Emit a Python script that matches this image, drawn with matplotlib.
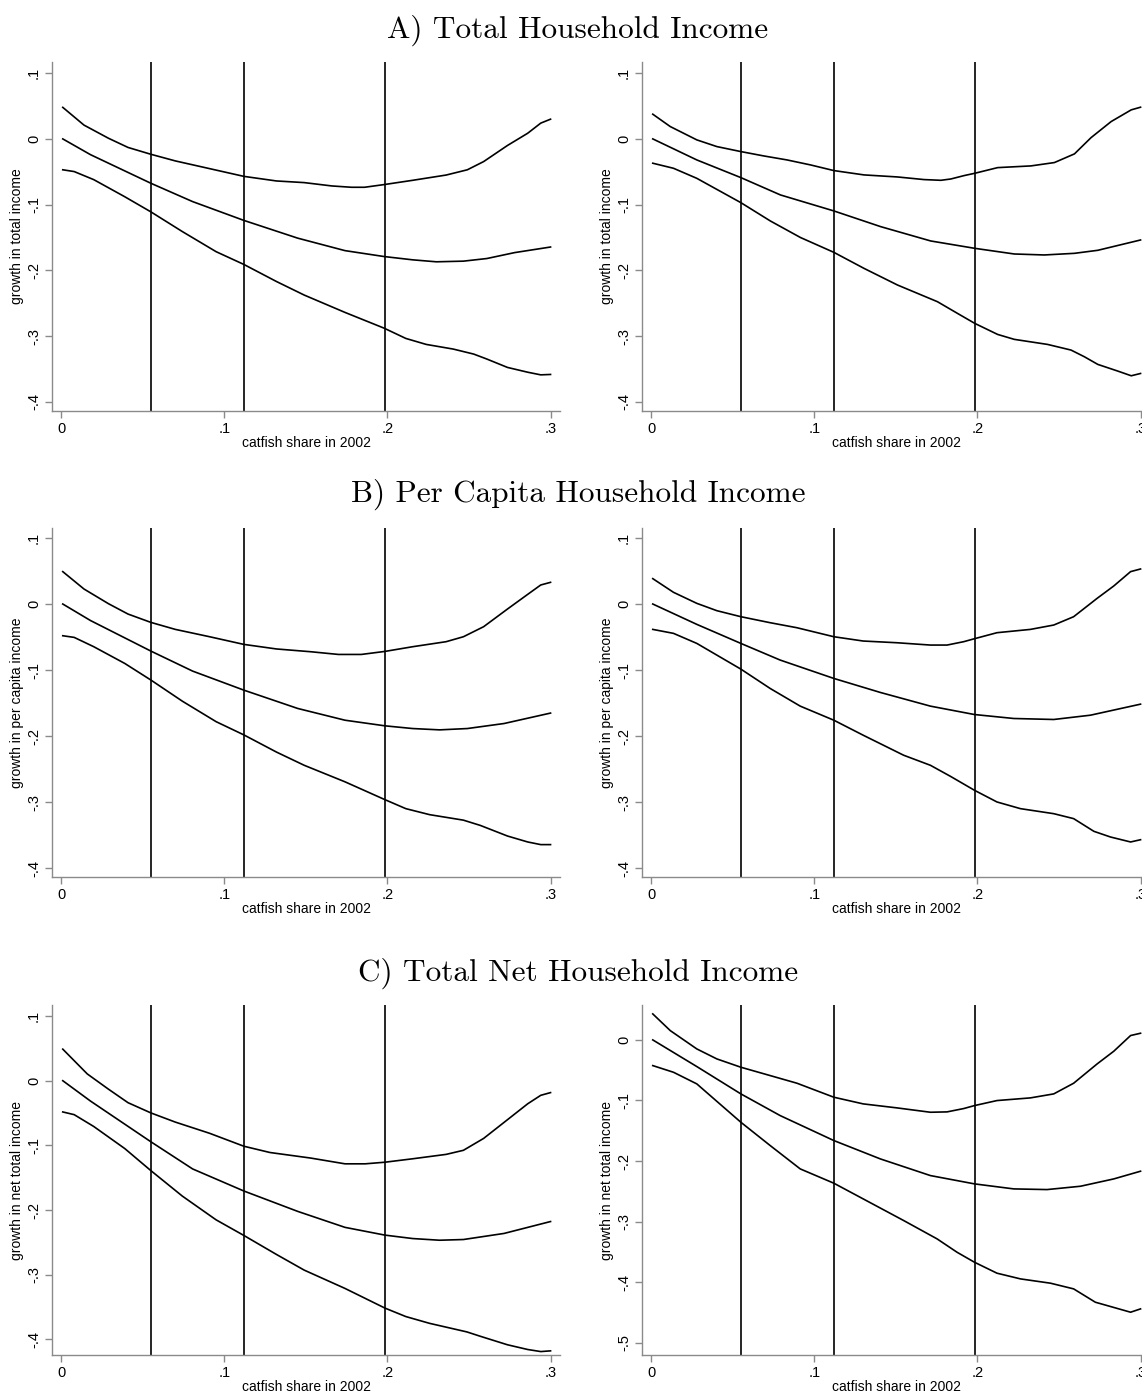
import matplotlib
matplotlib.use("Agg")
import matplotlib.pyplot as plt

# ---------------- data ----------------
panel_titles = ["A) Total Household Income", "B) Per Capita Household Income", "C) Total Net Household Income"]
x_label = "catfish share in 2002"
y_labels = ["growth in total income", "growth in per capita income", "growth in net total income"]
cutoffs = [0.055, 0.112, 0.1985]

x_ticks = [0, 0.1, 0.2, 0.3]
x_tick_labels = ["0", ".1", ".2", ".3"]
y_ticks_std = [-0.4, -0.3, -0.2, -0.1, 0.0, 0.1]
y_tick_labels_std = ["-.4", "-.3", "-.2", "-.1", "0", ".1"]
y_ticks_c_right = [-0.5, -0.4, -0.3, -0.2, -0.1, 0.0]
y_tick_labels_c_right = ["-.5", "-.4", "-.3", "-.2", "-.1", "0"]

# Panel A, left
a_l_up_x = [0.001, 0.014, 0.029, 0.041, 0.055, 0.070, 0.087, 0.112, 0.132, 0.149, 0.166, 0.178, 0.186, 0.198, 0.2155, 0.236, 0.249, 0.259, 0.2736, 0.286, 0.294, 0.300]
a_l_up_y = [0.048, 0.021, 0.001, -0.013, -0.0234, -0.0335, -0.043, -0.057, -0.064, -0.0665, -0.0716, -0.0736, -0.0736, -0.0695, -0.063, -0.055, -0.047, -0.0345, -0.010, 0.0086, 0.024, 0.030]
a_l_mid_x = [0.001, 0.018, 0.055, 0.0806, 0.112, 0.145, 0.174, 0.198, 0.2155, 0.230, 0.2466, 0.261, 0.278, 0.300]
a_l_mid_y = [0.0, -0.024, -0.0675, -0.0954, -0.124, -0.151, -0.170, -0.179, -0.184, -0.187, -0.186, -0.182, -0.173, -0.1645]
a_l_lo_x = [0.001, 0.008, 0.020, 0.039, 0.055, 0.0743, 0.095, 0.112, 0.132, 0.149, 0.174, 0.198, 0.2113, 0.2238, 0.2404, 0.2529, 0.261, 0.2736, 0.286, 0.294, 0.300]
a_l_lo_y = [-0.047, -0.0497, -0.062, -0.088, -0.111, -0.141, -0.1716, -0.191, -0.217, -0.2376, -0.264, -0.288, -0.3036, -0.3127, -0.3198, -0.3274, -0.335, -0.3477, -0.355, -0.359, -0.3584]

# Panel A, right
a_r_up_x = [0.001, 0.0117, 0.028, 0.0403, 0.055, 0.069, 0.0833, 0.0977, 0.112, 0.1305, 0.151, 0.1673, 0.1776, 0.1837, 0.1919, 0.1984, 0.2124, 0.2328, 0.2472, 0.2595, 0.2697, 0.282, 0.2943, 0.300]
a_r_up_y = [0.0376, 0.0188, -0.0015, -0.0117, -0.0193, -0.0259, -0.032, -0.0396, -0.0482, -0.0548, -0.0579, -0.0619, -0.063, -0.061, -0.0558, -0.0523, -0.0437, -0.0411, -0.036, -0.0228, 0.002, 0.0264, 0.0442, 0.0482]
a_r_mid_x = [0.001, 0.028, 0.055, 0.0793, 0.112, 0.1407, 0.1714, 0.1984, 0.2226, 0.241, 0.2595, 0.2738, 0.300]
a_r_mid_y = [0.0, -0.032, -0.0589, -0.0853, -0.1096, -0.1335, -0.1553, -0.1665, -0.1751, -0.1766, -0.1741, -0.1695, -0.1538]
a_r_lo_x = [0.001, 0.0137, 0.028, 0.055, 0.0731, 0.0915, 0.112, 0.1305, 0.151, 0.1755, 0.1878, 0.1984, 0.2124, 0.2226, 0.243, 0.2574, 0.2656, 0.2738, 0.2861, 0.2943, 0.300]
a_r_lo_y = [-0.037, -0.0447, -0.060, -0.097, -0.1249, -0.150, -0.1726, -0.197, -0.2223, -0.2477, -0.2655, -0.2807, -0.2975, -0.305, -0.3127, -0.3213, -0.3315, -0.3431, -0.3533, -0.3604, -0.3569]

# Panel B, left
b_l_up_x = [0.001, 0.014, 0.029, 0.041, 0.055, 0.070, 0.091, 0.112, 0.132, 0.153, 0.170, 0.184, 0.1985, 0.2155, 0.236, 0.2466, 0.259, 0.2736, 0.286, 0.294, 0.300]
b_l_up_y = [0.049, 0.0227, 0.0005, -0.0152, -0.0278, -0.0384, -0.0495, -0.0611, -0.068, -0.0722, -0.0763, -0.0763, -0.0717, -0.0646, -0.057, -0.0495, -0.0343, -0.0076, 0.0146, 0.0288, 0.0328]
b_l_mid_x = [0.001, 0.018, 0.055, 0.0806, 0.112, 0.145, 0.174, 0.1985, 0.2155, 0.232, 0.249, 0.2715, 0.300]
b_l_mid_y = [0.0, -0.025, -0.0712, -0.1015, -0.1303, -0.158, -0.1758, -0.1843, -0.1884, -0.1904, -0.1884, -0.1808, -0.165]
b_l_lo_x = [0.001, 0.008, 0.020, 0.039, 0.055, 0.0743, 0.095, 0.112, 0.132, 0.149, 0.174, 0.1985, 0.2113, 0.2259, 0.2466, 0.257, 0.2736, 0.286, 0.294, 0.300]
b_l_lo_y = [-0.048, -0.0505, -0.0646, -0.0899, -0.115, -0.147, -0.178, -0.198, -0.224, -0.244, -0.269, -0.296, -0.3096, -0.3187, -0.327, -0.335, -0.351, -0.360, -0.364, -0.364]

# Panel B, right
b_r_up_x = [0.001, 0.0137, 0.028, 0.0403, 0.055, 0.073, 0.0894, 0.112, 0.130, 0.1507, 0.1712, 0.1814, 0.1916, 0.1982, 0.212, 0.2325, 0.2468, 0.259, 0.2734, 0.2836, 0.2939, 0.300]
b_r_up_y = [0.0384, 0.0177, 0.001, -0.0101, -0.0192, -0.0283, -0.0359, -0.0495, -0.056, -0.0586, -0.0621, -0.0621, -0.057, -0.0525, -0.0434, -0.0384, -0.0318, -0.0192, 0.0086, 0.0273, 0.049, 0.053]
b_r_mid_x = [0.001, 0.028, 0.055, 0.0791, 0.112, 0.1405, 0.1712, 0.1982, 0.2223, 0.2468, 0.2693, 0.300]
b_r_mid_y = [0.0, -0.0308, -0.0596, -0.0848, -0.1126, -0.1338, -0.1545, -0.1672, -0.1732, -0.1747, -0.1682, -0.1515]
b_r_lo_x = [0.001, 0.0137, 0.028, 0.055, 0.073, 0.0914, 0.112, 0.130, 0.1548, 0.1712, 0.1834, 0.1982, 0.212, 0.2264, 0.2468, 0.259, 0.2714, 0.2816, 0.2939, 0.300]
b_r_lo_y = [-0.0384, -0.0444, -0.0596, -0.0985, -0.1278, -0.1545, -0.1758, -0.1985, -0.2288, -0.244, -0.2606, -0.2818, -0.2995, -0.3096, -0.3172, -0.3247, -0.3439, -0.3525, -0.360, -0.3566]

# Panel C, left
c_l_up_x = [0.001, 0.016, 0.029, 0.041, 0.055, 0.070, 0.091, 0.112, 0.128, 0.153, 0.174, 0.1864, 0.1985, 0.2155, 0.236, 0.2466, 0.259, 0.2736, 0.286, 0.294, 0.300]
c_l_up_y = [0.0488, 0.0105, -0.0131, -0.034, -0.0498, -0.064, -0.0813, -0.1013, -0.111, -0.1196, -0.1285, -0.1285, -0.126, -0.1207, -0.1139, -0.1076, -0.0892, -0.0603, -0.0357, -0.0226, -0.0184]
c_l_mid_x = [0.001, 0.018, 0.055, 0.0806, 0.112, 0.145, 0.174, 0.1985, 0.2155, 0.232, 0.2466, 0.2715, 0.300]
c_l_mid_y = [0.0, -0.0315, -0.0944, -0.1364, -0.1705, -0.202, -0.2267, -0.2387, -0.244, -0.2466, -0.2455, -0.2361, -0.2177]
c_l_lo_x = [0.001, 0.008, 0.020, 0.039, 0.055, 0.0743, 0.095, 0.112, 0.132, 0.149, 0.174, 0.1985, 0.2113, 0.2259, 0.2487, 0.257, 0.2736, 0.286, 0.294, 0.300]
c_l_lo_y = [-0.0483, -0.0525, -0.0708, -0.1049, -0.139, -0.1784, -0.2151, -0.2392, -0.2686, -0.2928, -0.3211, -0.3515, -0.3646, -0.3751, -0.3883, -0.3951, -0.4082, -0.4155, -0.4187, -0.4176]

# Panel C, right
c_r_up_x = [0.001, 0.0117, 0.028, 0.0403, 0.055, 0.073, 0.0894, 0.112, 0.130, 0.1507, 0.1712, 0.1814, 0.1916, 0.1982, 0.212, 0.2325, 0.2468, 0.259, 0.2734, 0.2836, 0.2939, 0.300]
c_r_up_y = [0.0429, 0.0154, -0.0149, -0.0314, -0.0451, -0.0589, -0.0715, -0.0946, -0.1056, -0.1122, -0.1194, -0.1188, -0.1133, -0.1084, -0.1001, -0.0957, -0.0891, -0.0715, -0.0396, -0.0187, 0.0072, 0.011]
c_r_mid_x = [0.001, 0.028, 0.055, 0.0791, 0.112, 0.1405, 0.1712, 0.1982, 0.2223, 0.2427, 0.2632, 0.2836, 0.300]
c_r_mid_y = [0.0, -0.044, -0.0891, -0.1249, -0.1661, -0.1964, -0.2239, -0.2376, -0.2459, -0.247, -0.2415, -0.2294, -0.2167]
c_r_lo_x = [0.001, 0.0137, 0.028, 0.055, 0.073, 0.0914, 0.112, 0.130, 0.1548, 0.1753, 0.1875, 0.1982, 0.212, 0.2264, 0.2448, 0.259, 0.2723, 0.2816, 0.2939, 0.300]
c_r_lo_y = [-0.0424, -0.0534, -0.0726, -0.1359, -0.1744, -0.2129, -0.2365, -0.2624, -0.2981, -0.3284, -0.3504, -0.3669, -0.385, -0.3944, -0.4015, -0.4109, -0.4329, -0.4400, -0.4494, -0.4439]

# ---------------- layout ----------------
W, H = 1142, 1393
fig = plt.figure(figsize=(W / 100, H / 100), dpi=100)
fig.patch.set_facecolor("white")

def px_axes(left, top, right, bottom):
    return fig.add_axes([left / W, 1 - bottom / H, (right - left) / W, (bottom - top) / H])

spine_col = "#8a8a8a"
tick_font = "Liberation Sans"

def style(ax, ylim, yticks, ylabels, ylab):
    ax.set_xlim(-0.0056, 0.3058)
    ax.set_ylim(*ylim)
    for s in ("top", "right"):
        ax.spines[s].set_visible(False)
    for s in ("left", "bottom"):
        ax.spines[s].set_color(spine_col)
        ax.spines[s].set_linewidth(1.0)
    ax.set_xticks(x_ticks)
    ax.set_xticklabels(x_tick_labels, fontfamily=tick_font, fontsize=10.5)
    ax.set_yticks(yticks)
    ax.set_yticklabels(ylabels, fontfamily=tick_font, fontsize=10.5, rotation=90, va="center")
    ax.tick_params(axis="both", direction="out", length=5, width=1.0, color=spine_col, pad=3)
    ax.set_xlabel(x_label, fontfamily=tick_font, fontsize=10, labelpad=0)
    ax.set_ylabel(ylab, fontfamily=tick_font, fontsize=10, labelpad=2)
    for c in cutoffs:
        ax.axvline(c, color="black", lw=1.2)

def curves(ax, sets):
    for xs, ys in sets:
        ax.plot(xs, ys, color="black", lw=1.2, solid_joinstyle="round")

rows = [
    (62, 411, (-0.414, 0.117), (-0.414, 0.117),
     [(a_l_up_x, a_l_up_y), (a_l_mid_x, a_l_mid_y), (a_l_lo_x, a_l_lo_y)],
     [(a_r_up_x, a_r_up_y), (a_r_mid_x, a_r_mid_y), (a_r_lo_x, a_r_lo_y)]),
    (528, 877, (-0.413, 0.115), (-0.413, 0.115),
     [(b_l_up_x, b_l_up_y), (b_l_mid_x, b_l_mid_y), (b_l_lo_x, b_l_lo_y)],
     [(b_r_up_x, b_r_up_y), (b_r_mid_x, b_r_mid_y), (b_r_lo_x, b_r_lo_y)]),
    (1005, 1355, (-0.424, 0.117), (-0.52, 0.0576),
     [(c_l_up_x, c_l_up_y), (c_l_mid_x, c_l_mid_y), (c_l_lo_x, c_l_lo_y)],
     [(c_r_up_x, c_r_up_y), (c_r_mid_x, c_r_mid_y), (c_r_lo_x, c_r_lo_y)]),
]
title_y = [30, 494, 973]

for i, (top, bottom, ylim_l, ylim_r, left_sets, right_sets) in enumerate(rows):
    axl = px_axes(52, top, 560, bottom)
    axr = px_axes(642, top, 1150, bottom)
    style(axl, ylim_l, y_ticks_std, y_tick_labels_std, y_labels[i])
    if i == 2:
        style(axr, ylim_r, y_ticks_c_right, y_tick_labels_c_right, y_labels[i])
    else:
        style(axr, ylim_r, y_ticks_std, y_tick_labels_std, y_labels[i])
    curves(axl, left_sets)
    curves(axr, right_sets)
    fig.text(578 / W, 1 - title_y[i] / H, panel_titles[i],
             ha="center", va="center", fontfamily="cmr10", fontsize=22.5)

fig.savefig("out.png", dpi=100, facecolor="white")
